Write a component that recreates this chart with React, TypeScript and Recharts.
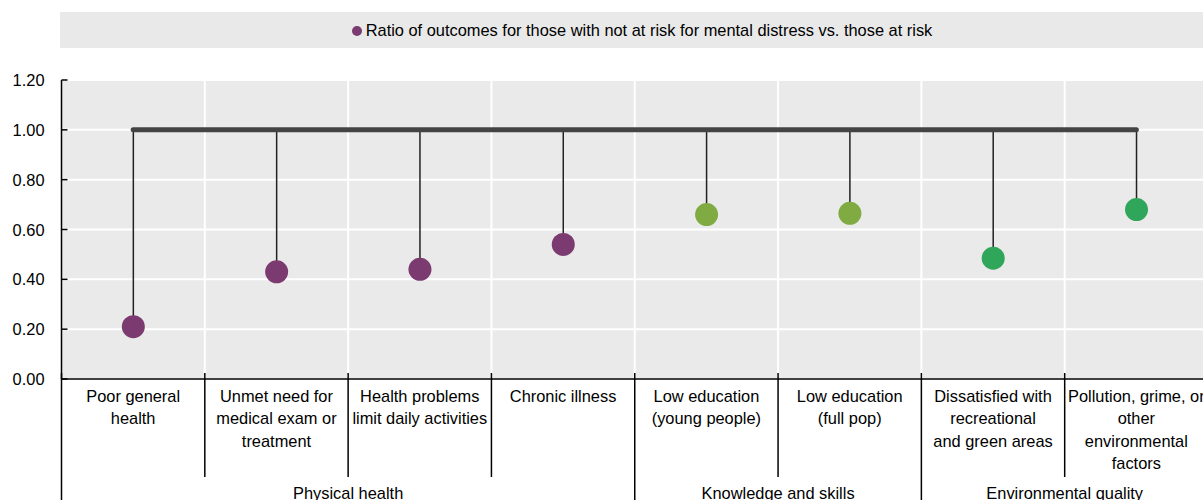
import { ComposedChart, Bar, XAxis, YAxis, CartesianGrid, ReferenceLine, Legend } from 'recharts';

const categories = [
  'Poor general health',
  'Unmet need for medical exam or treatment',
  'Health problems limit daily activities',
  'Chronic illness',
  'Low education (young people)',
  'Low education (full pop)',
  'Dissatisfied with recreational and green areas',
  'Pollution, grime, or other environmental factors',
];
const categoryLines = [
  ['Poor general', 'health'],
  ['Unmet need for', 'medical exam or', 'treatment'],
  ['Health problems', 'limit daily activities'],
  ['Chronic illness'],
  ['Low education', '(young people)'],
  ['Low education', '(full pop)'],
  ['Dissatisfied with', 'recreational', 'and green areas'],
  ['Pollution, grime, or', 'other', 'environmental', 'factors'],
];
const values = [0.21, 0.43, 0.44, 0.54, 0.66, 0.665, 0.485, 0.68];
const groups = ['Physical health', 'Knowledge and skills', 'Environmental quality'];
const groupSizes = [4, 2, 2];
const groupColors = ['#7B3A70', '#80AB42', '#2FA65A'];
const yTicks = [0, 0.2, 0.4, 0.6, 0.8, 1.0, 1.2];
const PARITY = 1;
const legendLabel = 'Ratio of outcomes for those with not at risk for mental distress vs. those at risk';

const FONT = '"Liberation Sans Narrow", "Arial Narrow", "Liberation Sans", Arial, sans-serif';
const FS = 16.4;
const CHART_W = 1211;
const CHART_H = 500;
const MARGIN = { top: 12, right: 3, bottom: 0, left: 1.5 };
const Y_W = 60;
const X_H = 121;
const PLOT_W = CHART_W - MARGIN.left - MARGIN.right - Y_W;
const BAND = PLOT_W / categories.length;

// group index and group start for each category
const groupOf: number[] = [];
const groupStart: number[] = [];
groupSizes.forEach((n, g) => {
  const start = groupOf.length;
  for (let k = 0; k < n; k++) {
    groupOf.push(g);
    groupStart.push(start);
  }
});

const data = categories.map((name, i) => ({
  name,
  value: values[i],
  group: groupOf[i],
}));

const Lollipop = (props: any) => {
  const { x, y, width, height, payload } = props;
  const cx = x + width / 2;
  const top = Math.min(y, y + height);
  const bottom = Math.max(y, y + height);
  return (
    <g>
      <line x1={cx} x2={cx} y1={top} y2={bottom} stroke="#222" strokeWidth={1.5} />
      <circle cx={cx} cy={bottom} r={11.5} fill={groupColors[payload.group]} />
    </g>
  );
};

const XTick = (props: any) => {
  const { x, y, payload } = props;
  const i = props.index ?? payload.index;
  const lines = categoryLines[i] || [];
  const left = x - BAND / 2;
  const isGroupStart = groupStart[i] === i;
  const g = groupOf[i];
  return (
    <g>
      <line x1={left} x2={left} y1={y - 6} y2={isGroupStart ? y + 125 : y + 98} stroke="#000" strokeWidth={1.5} />
      <text x={x} y={y + 23} textAnchor="middle" fontSize={FS} fill="#000" fontFamily={FONT}>
        {lines.map((l, k) => (
          <tspan key={k} x={x} dy={k === 0 ? 0 : 22.3}>
            {l}
          </tspan>
        ))}
      </text>
      {isGroupStart && (
        <text
          x={left + (groupSizes[g] * BAND) / 2}
          y={y + 120}
          textAnchor="middle"
          fontSize={FS}
          fill="#000"
          fontFamily={FONT}
        >
          {groups[g]}
        </text>
      )}
    </g>
  );
};

const YTick = (props: any) => {
  const { x, y, payload } = props;
  return (
    <g>
      <line x1={x + 17} x2={x + 23} y1={y} y2={y} stroke="#000" strokeWidth={1.5} />
      <text x={x} y={y + 6} textAnchor="end" fontSize={FS} fill="#000" fontFamily={FONT}>
        {Number(payload.value).toFixed(2)}
      </text>
    </g>
  );
};

const LegendBox = () => (
  <div style={{ paddingBottom: 32 }}>
    <div
      style={{
        marginLeft: Y_W - 1.5,
        width: 1144,
        height: 36,
        background: '#E9E9E9',
        display: 'flex',
        alignItems: 'center',
        justifyContent: 'center',
        fontFamily: FONT,
        fontSize: FS,
        color: '#000',
        paddingTop: 1,
        boxSizing: 'border-box',
      }}
    >
      <span
        style={{
          display: 'inline-block',
          width: 10,
          height: 10,
          borderRadius: 5,
          background: groupColors[0],
          marginRight: 4,
          marginLeft: 20,
        }}
      />
      <span>{legendLabel}</span>
    </div>
  </div>
);

export default function App() {
  return (
    <div style={{ position: 'absolute', left: 0, top: 0, width: 1203, height: 500, overflow: 'hidden', background: '#fff' }}>
      <ComposedChart width={CHART_W} height={CHART_H} data={data} margin={MARGIN} style={{ fontFamily: FONT }}>
        <Legend verticalAlign="top" align="left" content={<LegendBox />} />
        <CartesianGrid
          fill="#EAEAEA"
          stroke="#FFFFFF"
          strokeWidth={2}
          verticalCoordinatesGenerator={({ offset }: any) =>
            categories.slice(1).map((_, k) => offset.left + ((k + 1) * offset.width) / categories.length)
          }
        />
        <XAxis
          dataKey="name"
          interval={0}
          height={X_H}
          tickLine={false}
          tickSize={0}
          tickMargin={0}
          tick={<XTick />}
          axisLine={{ stroke: '#000', strokeWidth: 1.5 }}
        />
        <YAxis
          domain={[0, 1.2]}
          ticks={yTicks}
          width={Y_W}
          tickLine={false}
          tickSize={0}
          tickMargin={17}
          tick={<YTick />}
          axisLine={{ stroke: '#000', strokeWidth: 1.5 }}
        />
        <ReferenceLine
          segment={[
            { x: categories[0], y: PARITY },
            { x: categories[categories.length - 1], y: PARITY },
          ]}
          stroke="#444"
          strokeWidth={5}
          strokeLinecap="round"
          ifOverflow="visible"
        />
        <Bar dataKey={(d: any) => [d.value, PARITY]} shape={<Lollipop />} isAnimationActive={false} legendType="none" />
      </ComposedChart>
    </div>
  );
}
